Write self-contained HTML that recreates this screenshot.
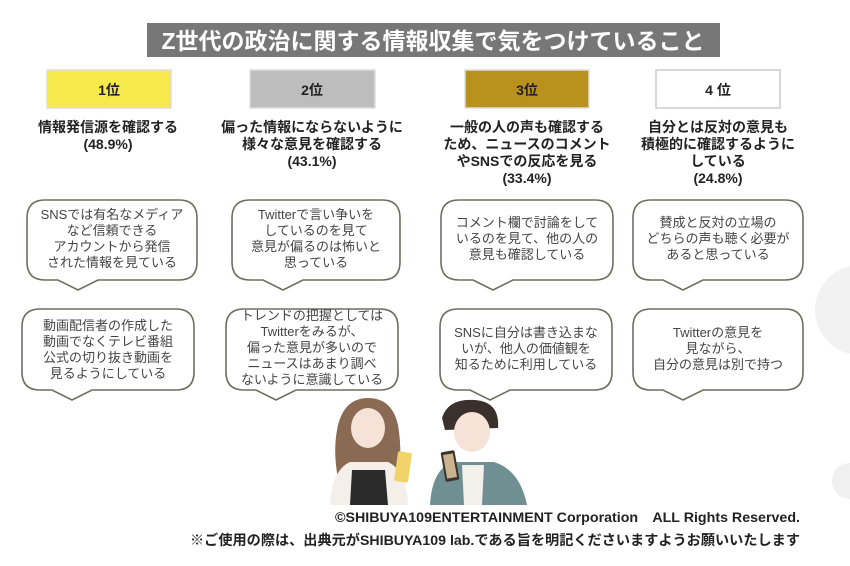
<!DOCTYPE html>
<html><head><meta charset="utf-8"><style>
html,body{margin:0;padding:0;background:#fff;}
svg{display:block;font-family:"Liberation Sans","Noto Sans CJK JP",sans-serif;}
.h{font-size:14px;font-weight:bold;fill:#222;text-anchor:middle;}
.b{font-size:13px;fill:#444;text-anchor:middle;}
.r{font-size:14px;font-weight:bold;fill:#222;text-anchor:middle;}
.bub{fill:#fff;stroke:#6e6e5e;stroke-width:1.6;}
</style></head><body>
<svg width="850" height="566" viewBox="0 0 850 566">
<circle cx="860" cy="310" r="45" fill="#f2f2f2"/>
<circle cx="850" cy="481" r="18" fill="#f0f0f0"/>
<rect x="147" y="23" width="573" height="34" fill="#777"/>
<text x="433" y="49" font-size="23" font-weight="bold" fill="#fff" text-anchor="middle">Z世代の政治に関する情報収集で気をつけていること</text>

<rect x="47" y="70" width="124" height="38" fill="#f6e94c" stroke="#ddd" stroke-width="1.5"/>
<text class="r" x="109" y="95">1位</text>
<rect x="250" y="70" width="125" height="38" fill="#bdbdbd" stroke="#ddd" stroke-width="1.5"/>
<text class="r" x="312" y="95">2位</text>
<rect x="465" y="70" width="124" height="38" fill="#b8921d" stroke="#ddd" stroke-width="1.5"/>
<text class="r" x="527" y="95">3位</text>
<rect x="656" y="70" width="124" height="38" fill="#fff" stroke="#ccc" stroke-width="1.5"/>
<text class="r" x="718" y="95">4 位</text>

<text class="h" x="108" y="132">情報発信源を確認する</text>
<text class="h" x="108" y="149">(48.9%)</text>
<text class="h" x="312" y="132">偏った情報にならないように</text>
<text class="h" x="312" y="149">様々な意見を確認する</text>
<text class="h" x="312" y="166">(43.1%)</text>
<text class="h" x="527" y="132">一般の人の声も確認する</text>
<text class="h" x="527" y="149">ため、ニュースのコメント</text>
<text class="h" x="527" y="166">やSNSでの反応を見る</text>
<text class="h" x="527" y="183">(33.4%)</text>
<text class="h" x="718" y="132">自分とは反対の意見も</text>
<text class="h" x="718" y="149">積極的に確認するように</text>
<text class="h" x="718" y="166">している</text>
<text class="h" x="718" y="183">(24.8%)</text>

<g class="bub">
<path d="M45 200 H179 Q197 200 197 218 V262 Q197 280 179 280 H98 L78 290 L58 280 H45 Q27 280 27 262 V218 Q27 200 45 200 Z"/>
<path d="M250 200 H382 Q400 200 400 218 V262 Q400 280 382 280 H303 L283 290 L263 280 H250 Q232 280 232 262 V218 Q232 200 250 200 Z"/>
<path d="M459 200 H595 Q613 200 613 218 V262 Q613 280 595 280 H513 L493 290 L473 280 H459 Q441 280 441 262 V218 Q441 200 459 200 Z"/>
<path d="M651 200 H785 Q803 200 803 218 V262 Q803 280 785 280 H703 L683 290 L663 280 H651 Q633 280 633 262 V218 Q633 200 651 200 Z"/>
<path d="M40 309 H176 Q194 309 194 327 V372 Q194 390 176 390 H92 L72 400 L52 390 H40 Q22 390 22 372 V327 Q22 309 40 309 Z"/>
<path d="M244 309 H380 Q398 309 398 327 V372 Q398 390 380 390 H296 L276 400 L256 390 H244 Q226 390 226 372 V327 Q226 309 244 309 Z"/>
<path d="M458 309 H594 Q612 309 612 327 V372 Q612 390 594 390 H510 L490 400 L470 390 H458 Q440 390 440 372 V327 Q440 309 458 309 Z"/>
<path d="M651 309 H785 Q803 309 803 327 V372 Q803 390 785 390 H703 L683 400 L663 390 H651 Q633 390 633 372 V327 Q633 309 651 309 Z"/>
</g>

<text class="b" x="112" y="219">SNSでは有名なメディア</text>
<text class="b" x="112" y="235">など信頼できる</text>
<text class="b" x="112" y="251">アカウントから発信</text>
<text class="b" x="112" y="267">された情報を見ている</text>
<text class="b" x="316" y="219">Twitterで言い争いを</text>
<text class="b" x="316" y="235">しているのを見て</text>
<text class="b" x="316" y="251">意見が偏るのは怖いと</text>
<text class="b" x="316" y="267">思っている</text>
<text class="b" x="527" y="227">コメント欄で討論をして</text>
<text class="b" x="527" y="243">いるのを見て、他の人の</text>
<text class="b" x="527" y="259">意見も確認している</text>
<text class="b" x="718" y="227">賛成と反対の立場の</text>
<text class="b" x="718" y="243">どちらの声も聴く必要が</text>
<text class="b" x="718" y="259">あると思っている</text>

<text class="b" x="108" y="330">動画配信者の作成した</text>
<text class="b" x="108" y="346">動画でなくテレビ番組</text>
<text class="b" x="108" y="362">公式の切り抜き動画を</text>
<text class="b" x="108" y="378">見るようにしている</text>
<text class="b" x="312" y="320">トレンドの把握としては</text>
<text class="b" x="312" y="336">Twitterをみるが、</text>
<text class="b" x="312" y="352">偏った意見が多いので</text>
<text class="b" x="312" y="368">ニュースはあまり調べ</text>
<text class="b" x="312" y="384">ないように意識している</text>
<text class="b" x="526" y="337">SNSに自分は書き込まな</text>
<text class="b" x="526" y="353">いが、他人の価値観を</text>
<text class="b" x="526" y="369">知るために利用している</text>
<text class="b" x="718" y="337">Twitterの意見を</text>
<text class="b" x="718" y="353">見ながら、</text>
<text class="b" x="718" y="369">自分の意見は別で持つ</text>

<path d="M345 505 Q330 460 338 425 Q345 398 368 398 Q392 398 398 425 Q404 460 395 505 Z" fill="#8a6a52"/>
<ellipse cx="368" cy="428" rx="17" ry="20" fill="#f6e2d6"/>
<path d="M330 505 Q332 470 350 462 L388 462 Q406 470 408 505 Z" fill="#f4efe8"/>
<path d="M352 470 L385 470 L388 505 L350 505 Z" fill="#2a2a2a"/>
<rect x="396" y="452" width="14" height="30" rx="2" fill="#f2d36a" transform="rotate(8 403 467)"/>
<path d="M442 418 Q448 398 475 400 Q500 402 498 428 L445 430 Z" fill="#3a302c"/>
<ellipse cx="472" cy="432" rx="18" ry="20" fill="#f6e2d6"/>
<path d="M430 505 Q432 470 452 462 L494 462 Q520 470 527 505 Z" fill="#6f8f93"/>
<path d="M462 465 L484 465 L482 505 L464 505 Z" fill="#f2f0ea"/>
<rect x="443" y="451" width="14" height="30" rx="2" fill="#3a3330" transform="rotate(-10 450 466)"/>
<rect x="445" y="454" width="10" height="24" fill="#cbb38e" transform="rotate(-10 450 466)"/>

<text x="800" y="522" font-size="14" font-weight="bold" fill="#222" text-anchor="end" textLength="465" lengthAdjust="spacingAndGlyphs">©SHIBUYA109ENTERTAINMENT Corporation　ALL Rights Reserved.</text>
<text x="800" y="545" font-size="14" font-weight="bold" fill="#222" text-anchor="end" textLength="610" lengthAdjust="spacingAndGlyphs">※ご使用の際は、出典元がSHIBUYA109 lab.である旨を明記くださいますようお願いいたします</text>
</svg>
</body></html>
